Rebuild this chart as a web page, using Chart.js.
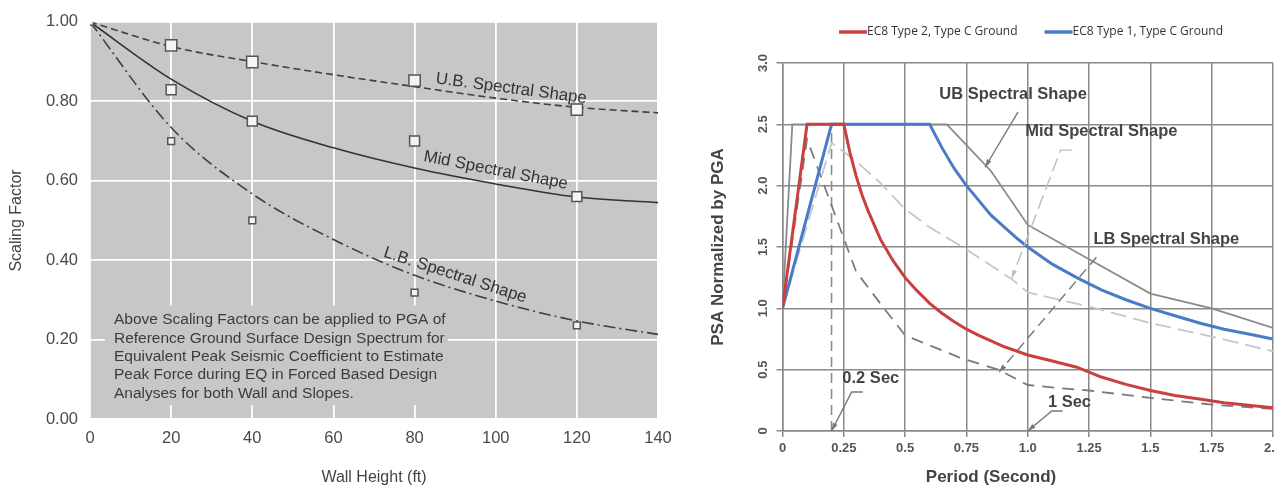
<!DOCTYPE html>
<html>
<head>
<meta charset="utf-8">
<script src="https://cdn.jsdelivr.net/npm/chart.js@4.4.1/dist/chart.umd.min.js"></script>
<style>
  html, body { margin: 0; padding: 0; background: #fff; overflow: hidden; }
  #wallChart { position: absolute; left: 0; top: 0; }
  #psaChart { position: absolute; left: 690px; top: 0; }
</style>
</head>
<body>
<canvas id="wallChart" width="690" height="487"></canvas>
<canvas id="psaChart" width="600" height="487"></canvas>
<script>
// ---- left chart: scaling factor vs wall height ----
const wallHeights = [0, 20, 40, 60, 80, 100, 120, 140];
const ubCurve  = [1.00, 0.938, 0.900, 0.867, 0.837, 0.808, 0.785, 0.771];
const midCurve = [1.00, 0.856, 0.750, 0.683, 0.632, 0.592, 0.559, 0.545];
const lbCurve  = [1.00, 0.734, 0.567, 0.452, 0.362, 0.297, 0.247, 0.213];

const markerHeights = [20, 40, 80, 120];
const ubMarkers  = [0.941, 0.899, 0.852, 0.779];
const midMarkers = [0.829, 0.750, 0.700, 0.560];
const smallMarkerHeights = [0, 20, 40, 80, 120];
const lbMarkers  = [1.000, 0.700, 0.500, 0.318, 0.236];

const wallTicks = ['0', '20', '40', '60', '80', '100', '120', '140'];
const factorTicks = ['0.00', '0.20', '0.40', '0.60', '0.80', '1.00'];

const curveLabels = ['U.B. Spectral Shape', 'Mid Spectral Shape', 'L.B. Spectral Shape'];
const noteLines = [
  'Above Scaling Factors can be applied to PGA of',
  'Reference Ground Surface Design Spectrum for',
  'Equivalent Peak Seismic Coefficient to Estimate',
  'Peak Force during EQ in Forced Based Design',
  'Analyses for both Wall and Slopes.'
];

// ---- right chart: EC8 spectra normalised by PGA ----
const type2T   = [0, 0.1, 0.25, 0.275, 0.3, 0.325, 0.35, 0.4, 0.45, 0.5, 0.55, 0.6, 0.65, 0.7, 0.75, 0.8, 0.9, 1.0, 1.1, 1.2, 1.3, 1.4, 1.5, 1.6, 1.7, 1.8, 1.9, 2.0];
const type2Psa = [1.0, 2.5, 2.5, 2.27, 2.08, 1.92, 1.79, 1.56, 1.39, 1.25, 1.14, 1.04, 0.96, 0.89, 0.83, 0.78, 0.69, 0.62, 0.57, 0.52, 0.44, 0.38, 0.33, 0.29, 0.26, 0.23, 0.21, 0.19];
const type1T   = [0, 0.2, 0.6, 0.65, 0.7, 0.75, 0.8, 0.85, 0.9, 0.95, 1.0, 1.1, 1.2, 1.3, 1.4, 1.5, 1.6, 1.7, 1.8, 1.9, 2.0];
const type1Psa = [1.0, 2.5, 2.5, 2.31, 2.14, 2.0, 1.88, 1.76, 1.67, 1.58, 1.5, 1.36, 1.25, 1.15, 1.07, 1.0, 0.94, 0.88, 0.83, 0.79, 0.75];
const ubT   = [0, 0.04, 0.67, 0.85, 1.0, 1.25, 1.5, 1.75, 2.0];
const ubPsa = [1.0, 2.5, 2.5, 2.12, 1.68, 1.40, 1.12, 1.0, 0.84];
const midT   = [0, 0.2, 0.3, 0.4, 0.5, 0.6, 0.75, 0.94, 1.0, 1.13, 1.26, 1.5, 1.75, 2.0];
const midPsa = [1.0, 2.35, 2.2, 2.02, 1.81, 1.66, 1.48, 1.23, 1.13, 1.07, 1.01, 0.88, 0.77, 0.65];
const lbT   = [0, 0.1, 0.3, 0.41, 0.5, 0.72, 0.88, 1.0, 1.13, 1.25, 1.5, 1.75, 2.0];
const lbPsa = [1.0, 2.38, 1.3, 1.01, 0.78, 0.6, 0.5, 0.375, 0.35, 0.33, 0.27, 0.215, 0.18];
const cutoffT   = [0.2, 0.2];
const cutoffPsa = [0, 2.5];

const periodTicks = ['0', '0.25', '0.5', '0.75', '1.0', '1.25', '1.5', '1.75', '2.0'];
const psaTicks = ['0', '0.5', '1.0', '1.5', '2.0', '2.5', '3.0'];

const spectrumNotes = ['UB Spectral Shape', 'Mid Spectral Shape', 'LB Spectral Shape', '0.2 Sec', '1 Sec'];

const pts = (xs, ys) => xs.map((x, i) => ({x: x, y: ys[i]}));
const FAMILY = '"Liberation Sans", Arial, sans-serif';

// label placement (data units) for the left chart
const curveLabelPos = [
  {x: 103.8, y: 0.832, angle: 7.5},
  {x: 100, y: 0.626, angle: 11},
  {x: 90, y: 0.362, angle: 18}
];
const notePos = {x: 5.9, y: 0.249, box: [3.7, 0.035, 88.2, 0.286]};

const wallDecor = {
  id: 'wallDecor',
  beforeDraw(chart) {
    const {ctx, chartArea: a} = chart;
    ctx.save();
    ctx.fillStyle = '#c7c7c9';
    ctx.fillRect(a.left, a.top, a.right - a.left, a.bottom - a.top);
    ctx.restore();
  },
  beforeDatasetsDraw(chart) {
    const {ctx, scales: {x, y}} = chart;
    const b = notePos.box;
    ctx.save();
    ctx.fillStyle = '#c7c7c9';
    ctx.fillRect(x.getPixelForValue(b[0]), y.getPixelForValue(b[3]),
      x.getPixelForValue(b[2]) - x.getPixelForValue(b[0]), y.getPixelForValue(b[1]) - y.getPixelForValue(b[3]));
    ctx.fillStyle = '#3c3c3c';
    ctx.font = '15.5px ' + FAMILY;
    ctx.textBaseline = 'middle';
    const x0 = x.getPixelForValue(notePos.x), y0 = y.getPixelForValue(notePos.y);
    noteLines.forEach((t, i) => ctx.fillText(t, x0, y0 + i * 18.3));
    ctx.restore();
  },
  afterDatasetsDraw(chart) {
    const {ctx, scales: {x, y}} = chart;
    ctx.save();
    ctx.fillStyle = '#333';
    ctx.font = '16.8px ' + FAMILY;
    ctx.textAlign = 'center';
    ctx.textBaseline = 'middle';
    curveLabels.forEach((t, i) => {
      const p = curveLabelPos[i];
      ctx.save();
      ctx.translate(x.getPixelForValue(p.x), y.getPixelForValue(p.y));
      ctx.rotate(p.angle * Math.PI / 180);
      ctx.fillText(t, 0, 0);
      ctx.restore();
    });
    ctx.restore();
  }
};

const square = (data, r) => ({
  data: data, showLine: false, pointStyle: 'rect', pointRadius: r,
  pointBackgroundColor: '#f4f4f4', pointBorderColor: '#555', pointBorderWidth: 1.5
});

new Chart(document.getElementById('wallChart'), {
  type: 'line',
  data: {
    datasets: [
      Object.assign({label: 'UB data'}, square(pts(markerHeights, ubMarkers), 8)),
      Object.assign({label: 'Mid data'}, square(pts(markerHeights, midMarkers), 7)),
      Object.assign({label: 'LB data'}, square(pts(smallMarkerHeights, lbMarkers), 4.8)),
      {label: curveLabels[0], data: pts(wallHeights, ubCurve), borderColor: '#3f3f3f', borderWidth: 1.6,
        borderDash: [7, 4], pointRadius: 0, cubicInterpolationMode: 'monotone'},
      {label: curveLabels[1], data: pts(wallHeights, midCurve), borderColor: '#333', borderWidth: 1.6,
        pointRadius: 0, cubicInterpolationMode: 'monotone'},
      {label: curveLabels[2], data: pts(wallHeights, lbCurve), borderColor: '#3f3f3f', borderWidth: 1.6,
        borderDash: [12, 4, 2, 4], pointRadius: 0, cubicInterpolationMode: 'monotone'}
    ]
  },
  options: {
    responsive: false,
    animation: false,
    devicePixelRatio: 1,
    layout: {padding: {top: 21, right: 32, left: 0, bottom: 0}},
    plugins: {legend: {display: false}, tooltip: {enabled: false}},
    scales: {
      x: {
        type: 'linear', min: 0, max: 140,
        ticks: {stepSize: 20, callback: (v, i) => wallTicks[i], color: '#4a4a4a',
          font: {size: 16.5, family: FAMILY}, padding: 10, maxRotation: 0},
        grid: {color: '#ffffff', lineWidth: 1.8, drawTicks: false},
        border: {display: false},
        title: {display: true, text: 'Wall Height (ft)', color: '#444',
          font: {size: 16, family: FAMILY}, padding: {top: 0, bottom: 0}},
        afterFit: s => { s.height = 68; }
      },
      y: {
        min: 0, max: 1,
        ticks: {stepSize: 0.2, callback: (v, i) => factorTicks[i], color: '#4a4a4a',
          font: {size: 16.5, family: FAMILY}, padding: 12},
        grid: {color: '#ffffff', lineWidth: 1.8, drawTicks: false},
        border: {display: false},
        title: {display: true, text: 'Scaling Factor', color: '#444',
          font: {size: 16, family: FAMILY}, padding: {top: 7, bottom: 0}},
        afterFit: s => { s.width = 90; }
      }
    }
  },
  plugins: [wallDecor]
});

// annotation placement (data units) for the right chart
const notePlaces = [
  {x: 0.94, y: 2.74},
  {x: 1.30, y: 2.445},
  {x: 1.565, y: 1.563},
  {x: 0.36, y: 0.43},
  {x: 1.17, y: 0.236}
];
const leaders = [
  {path: [[0.96, 2.60], [0.826, 2.15]], color: '#777', dash: []},
  {path: [[1.18, 2.29], [1.134, 2.29], [0.935, 1.246]], color: '#bdbdbd', dash: [14, 6]},
  {path: [[1.28, 1.417], [0.883, 0.48]], color: '#777', dash: [10, 6]},
  {path: [[0.327, 0.318], [0.282, 0.318], [0.2, 0.0]], color: '#777', dash: []},
  {path: [[1.142, 0.163], [1.098, 0.163], [1.0, 0.0]], color: '#777', dash: []}
];

const spectrumDecor = {
  id: 'spectrumDecor',
  afterDatasetsDraw(chart) {
    const {ctx, scales: {x, y}} = chart;
    ctx.save();
    // leaders with arrow heads
    leaders.forEach(l => {
      const p = l.path.map(q => [x.getPixelForValue(q[0]), y.getPixelForValue(q[1])]);
      ctx.strokeStyle = l.color;
      ctx.fillStyle = l.color;
      ctx.lineWidth = 1.4;
      ctx.setLineDash(l.dash);
      ctx.beginPath();
      p.forEach((q, i) => i ? ctx.lineTo(q[0], q[1]) : ctx.moveTo(q[0], q[1]));
      ctx.stroke();
      ctx.setLineDash([]);
      const e = p[p.length - 1], s = p[p.length - 2];
      const ang = Math.atan2(e[1] - s[1], e[0] - s[0]);
      ctx.beginPath();
      ctx.moveTo(e[0], e[1]);
      ctx.lineTo(e[0] - 8 * Math.cos(ang) + 2.5 * Math.sin(ang), e[1] - 8 * Math.sin(ang) - 2.5 * Math.cos(ang));
      ctx.lineTo(e[0] - 8 * Math.cos(ang) - 2.5 * Math.sin(ang), e[1] - 8 * Math.sin(ang) + 2.5 * Math.cos(ang));
      ctx.closePath();
      ctx.fill();
    });
    // annotation text
    ctx.fillStyle = '#444';
    ctx.font = 'bold 16.5px ' + FAMILY;
    ctx.textAlign = 'center';
    ctx.textBaseline = 'middle';
    spectrumNotes.forEach((t, i) => {
      ctx.fillText(t, x.getPixelForValue(notePlaces[i].x), y.getPixelForValue(notePlaces[i].y));
    });
    ctx.restore();
  },
  afterDraw(chart) {
    const {ctx, chartArea: a, scales: {y}} = chart;
    ctx.save();
    // rotated y tick labels
    ctx.fillStyle = '#555';
    ctx.font = 'bold 13px ' + FAMILY;
    ctx.textAlign = 'center';
    ctx.textBaseline = 'middle';
    y.ticks.forEach((t, i) => {
      ctx.save();
      ctx.translate(a.left - 19.5, y.getPixelForValue(t.value));
      ctx.rotate(-Math.PI / 2);
      ctx.fillText(psaTicks[i], 0, 0);
      ctx.restore();
    });
    // x axis title
    ctx.fillStyle = '#444';
    ctx.font = 'bold 17px ' + FAMILY;
    ctx.fillText('Period (Second)', a.left + 208.5, 477);
    // legend
    ctx.font = '12px "Open Sans", sans-serif';
    ctx.textAlign = 'left';
    let lx = 149;
    chart.data.datasets.filter(d => d.inLegend).forEach(d => {
      ctx.strokeStyle = d.borderColor;
      ctx.lineWidth = 3.5;
      ctx.beginPath();
      ctx.moveTo(lx, 32);
      ctx.lineTo(lx + 28, 32);
      ctx.stroke();
      ctx.fillStyle = '#333';
      ctx.fillText(d.label, lx + 28, 32);
      lx += 28 + ctx.measureText(d.label).width + 27;
    });
    ctx.restore();
  }
};

new Chart(document.getElementById('psaChart'), {
  type: 'line',
  data: {
    datasets: [
      {label: 'EC8 Type 2, Type C Ground', inLegend: true, data: pts(type2T, type2Psa),
        borderColor: '#c9403e', borderWidth: 3, pointRadius: 0},
      {label: 'EC8 Type 1, Type C Ground', inLegend: true, data: pts(type1T, type1Psa),
        borderColor: '#4a7cc5', borderWidth: 3, pointRadius: 0},
      {label: 'UB Spectral Shape', data: pts(ubT, ubPsa), borderColor: '#8a8a8a', borderWidth: 1.8, pointRadius: 0},
      {label: 'Mid Spectral Shape', data: pts(midT, midPsa), borderColor: '#c6c6c6', borderWidth: 1.8,
        borderDash: [16, 7], pointRadius: 0},
      {label: 'LB Spectral Shape', data: pts(lbT, lbPsa), borderColor: '#7a7a7a', borderWidth: 1.8,
        borderDash: [12, 8], pointRadius: 0},
      {label: '0.2 Sec', data: pts(cutoffT, cutoffPsa), borderColor: '#8a8a8a', borderWidth: 1.6,
        borderDash: [10, 6], pointRadius: 0}
    ]
  },
  options: {
    responsive: false,
    animation: false,
    devicePixelRatio: 1,
    layout: {padding: {top: 63, right: 17, left: 0, bottom: 0}},
    plugins: {legend: {display: false}, tooltip: {enabled: false}},
    scales: {
      x: {
        type: 'linear', min: 0, max: 2,
        ticks: {stepSize: 0.25, callback: (v, i) => periodTicks[i], color: '#555',
          font: {size: 13, weight: 'bold', family: FAMILY}, padding: 4, maxRotation: 0},
        grid: {color: '#8a8a8a', lineWidth: 1.5, tickLength: 6},
        border: {color: '#8a8a8a', width: 1.5},
        afterFit: s => { s.height = 56; }
      },
      y: {
        min: 0, max: 3,
        ticks: {stepSize: 0.5, display: false},
        grid: {color: '#8a8a8a', lineWidth: 1.5, tickLength: 6},
        border: {color: '#8a8a8a', width: 1.5},
        title: {display: true, text: 'PSA Normalized by PGA', color: '#444',
          font: {size: 17, weight: 'bold', family: FAMILY}, padding: {top: 18, bottom: 0}},
        afterFit: s => { s.width = 92.5; }
      }
    }
  },
  plugins: [spectrumDecor]
});
</script>
</body>
</html>
